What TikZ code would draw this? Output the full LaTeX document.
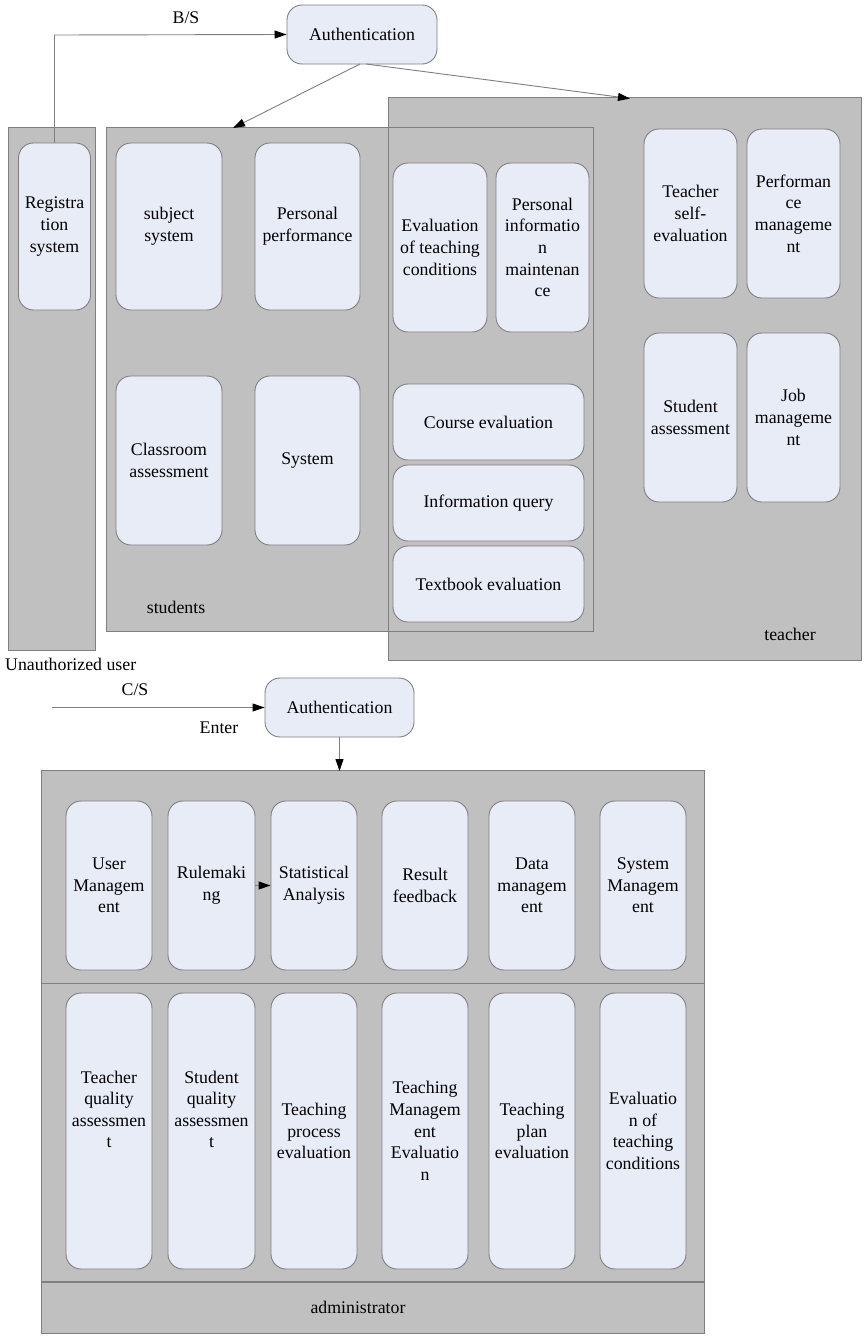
\documentclass[tikz,border=0pt]{standalone}
\usepackage{fontspec}
\setmainfont{Liberation Serif}
\usetikzlibrary{arrows.meta}
\definecolor{panelgray}{HTML}{C0C0C0}
\definecolor{edgegray}{HTML}{7F7F7F}
\definecolor{boxfill}{HTML}{E8ECF7}
\begin{document}
\begin{tikzpicture}[x=1pt,y=-1pt,
  box/.style={draw=edgegray, line width=0.9pt, fill=boxfill, rounded corners=15pt,
    align=center, inner sep=0pt, font=\fontsize{17.8}{21.6}\selectfont},
  panelfill/.style={fill=panelgray, draw=none, inner sep=0pt},
  paneledge/.style={draw=edgegray, line width=0.9pt},
  lab/.style={font=\fontsize{17.8}{21.6}\selectfont, inner sep=0pt},
  arr/.style={draw=edgegray, line width=0.9pt, -{Triangle[length=12pt,width=8pt,fill=black,color=black]}},
  plain/.style={draw=edgegray, line width=0.9pt}
]
\useasboundingbox (0,0) rectangle (867,1339);
\fill[white] (0,0) rectangle (867,1339);

% panels (fills)
\node[panelfill, minimum width=86, minimum height=522] (regp) at (52,389) {};
\node[panelfill, minimum width=472, minimum height=562] (teap) at (625,379) {};
\node[panelfill, minimum width=486, minimum height=503] (stup) at (350,379.5) {};
\node[panelfill, minimum width=662, minimum height=562] (admp) at (373,1052) {};
% panel outlines
\draw[paneledge] (regp.north west) rectangle (regp.south east);
\draw[paneledge] (teap.north west) rectangle (teap.south east);
\draw[paneledge] (stup.north west) rectangle (stup.south east);
\draw[paneledge] (admp.north west) rectangle (admp.south east);
\coordinate (sepa) at (42,983);
\coordinate (sepb) at (704,983);
\coordinate (sepc) at (42,1282);
\coordinate (sepd) at (704,1282);
\draw[paneledge] (sepa) -- (sepb);
\draw[paneledge, line width=1.2pt] (sepc) -- (sepd);

% top authentication
\node[box, minimum width=150, minimum height=59] (auth1) at (362,34.5) {Authentication};

% registration
\node[box, minimum width=72, minimum height=167] (reg) at (54.5,226.5) {Registra\\tion\\system};

% students
\node[box, minimum width=106, minimum height=167] (subj) at (169,226.5) {subject\\system};
\node[box, minimum width=105, minimum height=167] (perf) at (307.5,226.5) {Personal\\performance};
\node[box, minimum width=106, minimum height=169] (cls) at (169,460.5) {Classroom\\assessment};
\node[box, minimum width=105, minimum height=169] (sys) at (307.5,460.5) {System};
\node[box, minimum width=94, minimum height=169] (etc) at (440,247.5) {Evaluation\\of teaching\\conditions};
\node[box, minimum width=93, minimum height=169] (pim) at (542.5,247.5) {Personal\\informatio\\n\\maintenan\\ce};
\node[box, minimum width=191, minimum height=76] (ce) at (488.5,422) {Course evaluation};
\node[box, minimum width=191, minimum height=76] (iq) at (488.5,503) {Information query};
\node[box, minimum width=191, minimum height=76] (te) at (488.5,584) {Textbook evaluation};
\node[lab] (studlab) at (176,607) {students};

% teacher
\node[box, minimum width=93, minimum height=169] (tse) at (690.5,213.5) {Teacher\\self-\\evaluation};
\node[box, minimum width=93, minimum height=169] (pm) at (793.5,213.5) {Performan\\ce\\manageme\\nt};
\node[box, minimum width=93, minimum height=169] (sa) at (690.5,417.5) {Student\\assessment};
\node[box, minimum width=93, minimum height=169] (jm) at (793.5,417.5) {Job\\manageme\\nt};
\node[lab] (tealab) at (790,634) {teacher};

% top connectors
\coordinate (bsup) at (54.5,35);
\draw[arr] (reg.north) -- (bsup) -- (auth1.west);
\node[lab] (bslab) at (186,18) {B/S};
\coordinate (sarr) at (233,128);
\coordinate (tarr) at (630,98.5);
\coordinate (a1s) at (360,64);
\coordinate (a1t) at (366,64);
\draw[arr] (a1s) -- (sarr);
\draw[arr] (a1t) -- (tarr);

% bottom authentication
\node[lab, anchor=west] (unauth) at (5,664) {Unauthorized user};
\node[lab] (cslab) at (135,690) {C/S};
\node[lab] (enterlab) at (219,728) {Enter};
\node[box, minimum width=149, minimum height=59] (auth2) at (339.5,707.5) {Authentication};
\coordinate (cstart) at (52,707.5);
\draw[arr] (cstart) -- (auth2.west);
\coordinate (admtop) at (339.5,771);
\draw[arr] (auth2.south) -- (admtop);

% admin row 1
\node[box, minimum width=86, minimum height=169] (um) at (109,885.5) {User\\Managem\\ent};
\node[box, minimum width=87, minimum height=169] (rm) at (211.5,885.5) {Rulemaki\\ng};
\node[box, minimum width=86, minimum height=169] (st) at (314,885.5) {Statistical\\Analysis};
\node[box, minimum width=86, minimum height=169] (rf) at (425,885.5) {Result\\feedback};
\node[box, minimum width=86, minimum height=169] (dm) at (532,885.5) {Data\\managem\\ent};
\node[box, minimum width=86, minimum height=169] (sm) at (643,885.5) {System\\Managem\\ent};
\draw[arr] (rm.east) -- (st.west);

% admin row 2
\node[box, minimum width=86, minimum height=276] (tqa) at (109,1131) {Teacher\\quality\\assessmen\\t\\[21.6pt]};
\node[box, minimum width=87, minimum height=276] (sqa) at (211.5,1131) {Student\\quality\\assessmen\\t\\[21.6pt]};
\node[box, minimum width=86, minimum height=276] (tpe) at (314,1131) {Teaching\\process\\evaluation};
\node[box, minimum width=86, minimum height=276] (tme) at (425,1131) {Teaching\\Managem\\ent\\Evaluatio\\n};
\node[box, minimum width=86, minimum height=276] (tple) at (532,1131) {Teaching\\plan\\evaluation};
\node[box, minimum width=86, minimum height=276] (eotc) at (643,1131) {Evaluatio\\n of\\teaching\\conditions};
\node[lab] (admlab) at (358,1307) {administrator};
\end{tikzpicture}
\end{document}
